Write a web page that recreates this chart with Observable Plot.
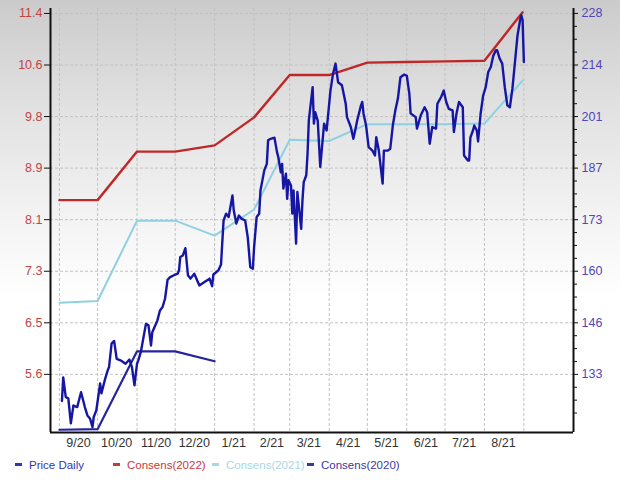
<!DOCTYPE html>
<html><head><meta charset="utf-8">
<script src="https://cdn.jsdelivr.net/npm/d3@7"></script>
<script src="https://cdn.jsdelivr.net/npm/@observablehq/plot@0.6"></script>
<style>
html,body{margin:0;padding:0;}
body{width:620px;height:482px;overflow:hidden;position:relative;
 background:linear-gradient(to bottom,#cbcbcb 0px,#e2e2e2 110px,#f5f5f5 230px,#ffffff 300px);
 font-family:"Liberation Sans",Arial,sans-serif;}
#chart svg{display:block;}
#legend{position:absolute;left:0;top:456px;width:620px;height:18px;font-size:11.5px;line-height:18px;}
.item{position:absolute;top:0;white-space:nowrap;}
.dash{display:inline-block;width:7px;height:3px;vertical-align:middle;margin-right:7px;position:relative;top:-1px;}
</style></head><body>
<div id="chart"></div><div id="legend"></div>
<script>
// ---- tick labels ----
const leftTickLabels  = ["5.6","6.5","7.3","8.1","8.9","9.8","10.6","11.4"];   // EPS axis
const rightTickLabels = ["133","146","160","173","187","201","214","228"];      // price axis
const xTickLabels = ["9/20","10/20","11/20","12/20","1/21","2/21","3/21","4/21","5/21","6/21","7/21","8/21"];
const xTickDates  = ["2020-09-16","2020-10-16","2020-11-16","2020-12-16","2021-01-16","2021-02-15","2021-03-16","2021-04-16","2021-05-16","2021-06-16","2021-07-16","2021-08-16"];
const monthStarts = ["2020-09-01","2020-10-01","2020-11-01","2020-12-01","2021-01-01","2021-02-01","2021-03-01","2021-04-01","2021-05-01","2021-06-01","2021-07-01","2021-08-01","2021-09-01"];
const xDomain = ["2020-08-25","2021-10-10"];
const yDomain = [117.7, 229.3]; // price units

// ---- consensus EPS series (monthly) ----
const consensDates = ["2020-09-01","2020-10-01","2020-11-01","2020-12-01","2021-01-01","2021-02-01","2021-03-01","2021-04-01","2021-05-01","2021-06-01","2021-07-01","2021-08-01","2021-08-31"];
const consens2022 = [8.40, 8.40, 9.18, 9.18, 9.28, 9.73, 10.41, 10.41, 10.61, 10.62, 10.63, 10.64, 11.42];
const consens2021 = [6.75, 6.78, 8.07, 8.07, 7.83, 8.25, 9.37, 9.35, 9.62, 9.62, 9.62, 9.63, 10.32];
const consens2020 = [4.71, 4.72, 5.97, 5.97, 5.81];

// ---- daily price ----
const priceDaily = [
["2020-09-03",126.0],["2020-09-04",132.2],["2020-09-06",127.0],["2020-09-08",126.7],["2020-09-10",120.1],
["2020-09-12",124.8],["2020-09-15",124.4],["2020-09-18",128.3],["2020-09-21",124.4],["2020-09-23",122.2],
["2020-09-25",121.4],["2020-09-27",119.1],["2020-09-28",121.8],["2020-09-30",123.5],["2020-10-03",130.6],
["2020-10-04",128.0],["2020-10-07",131.9],["2020-10-09",134.1],["2020-10-10",134.9],["2020-10-12",141.1],
["2020-10-14",141.8],["2020-10-16",137.1],["2020-10-19",136.7],["2020-10-23",135.8],["2020-10-26",136.9],
["2020-10-28",134.9],["2020-10-30",130.1],["2020-11-01",135.8],["2020-11-02",136.7],["2020-11-04",138.9],
["2020-11-08",146.3],["2020-11-10",145.9],["2020-11-12",140.6],["2020-11-13",144.1],["2020-11-17",147.2],
["2020-11-19",149.8],["2020-11-21",150.7],["2020-11-23",152.9],["2020-11-25",157.9],["2020-11-27",158.6],
["2020-11-30",159.1],["2020-12-03",159.5],["2020-12-04",160.4],["2020-12-05",163.9],["2020-12-07",164.3],
["2020-12-09",166.2],["2020-12-11",159.1],["2020-12-13",158.2],["2020-12-16",159.5],["2020-12-20",156.4],
["2020-12-24",157.3],["2020-12-28",158.2],["2020-12-30",156.2],["2020-12-31",159.3],["2021-01-04",160.4],
["2021-01-06",161.9],["2021-01-08",173.5],["2021-01-10",175.3],["2021-01-12",174.4],["2021-01-15",180.1],
["2021-01-16",176.2],["2021-01-18",172.7],["2021-01-20",174.8],["2021-01-22",174.0],["2021-01-25",173.5],
["2021-01-27",169.1],["2021-01-29",161.2],["2021-01-31",160.8],["2021-02-01",166.5],["2021-02-03",174.4],
["2021-02-05",175.3],["2021-02-06",181.4],["2021-02-09",186.7],["2021-02-11",188.4],["2021-02-12",194.6],
["2021-02-14",195.0],["2021-02-17",195.3],["2021-02-19",191.5],["2021-02-20",190.2],["2021-02-22",186.2],
["2021-02-23",188.4],["2021-02-24",181.9],["2021-02-26",185.8],["2021-02-27",179.2],["2021-02-28",184.1],
["2021-03-02",182.7],["2021-03-03",175.3],["2021-03-04",181.4],["2021-03-06",167.4],["2021-03-07",181.0],
["2021-03-10",171.3],["2021-03-11",178.8],["2021-03-12",183.6],["2021-03-14",185.4],["2021-03-15",191.1],
["2021-03-16",199.8],["2021-03-19",208.6],["2021-03-20",199.0],["2021-03-21",202.0],["2021-03-23",199.8],
["2021-03-25",187.6],["2021-03-28",199.0],["2021-03-30",197.2],["2021-04-02",207.7],["2021-04-04",212.1],
["2021-04-06",214.8],["2021-04-08",209.9],["2021-04-11",209.1],["2021-04-14",204.2],["2021-04-15",200.7],
["2021-04-18",198.1],["2021-04-20",195.0],["2021-04-22",198.1],["2021-04-23",199.8],["2021-04-26",203.8],
["2021-04-27",204.7],["2021-04-28",201.6],["2021-04-30",198.5],["2021-05-02",192.8],["2021-05-05",191.9],
["2021-05-07",190.6],["2021-05-08",195.4],["2021-05-10",191.9],["2021-05-13",183.2],["2021-05-14",191.9],
["2021-05-17",191.9],["2021-05-19",192.4],["2021-05-21",198.5],["2021-05-23",202.5],["2021-05-25",205.6],
["2021-05-27",211.2],["2021-05-30",211.9],["2021-06-01",211.6],["2021-06-03",206.9],["2021-06-04",201.7],
["2021-06-08",200.7],["2021-06-09",197.7],["2021-06-12",201.2],["2021-06-15",203.3],["2021-06-17",202.0],
["2021-06-19",193.7],["2021-06-21",198.1],["2021-06-24",197.7],["2021-06-25",204.2],["2021-06-28",206.0],
["2021-06-30",207.7],["2021-07-02",204.7],["2021-07-04",202.9],["2021-07-07",202.5],["2021-07-08",196.8],
["2021-07-10",201.6],["2021-07-12",204.7],["2021-07-15",203.3],["2021-07-16",190.6],["2021-07-19",189.3],
["2021-07-20",189.3],["2021-07-21",195.4],["2021-07-23",197.2],["2021-07-24",198.5],["2021-07-26",197.2],
["2021-07-27",194.3],["2021-07-29",201.6],["2021-07-31",206.4],["2021-08-02",208.6],["2021-08-04",212.6],
["2021-08-06",213.9],["2021-08-08",216.9],["2021-08-10",218.3],["2021-08-11",218.3],["2021-08-13",216.1],
["2021-08-15",214.8],["2021-08-17",208.6],["2021-08-19",203.8],["2021-08-21",203.3],["2021-08-23",208.2],
["2021-08-25",215.2],["2021-08-27",222.2],["2021-08-29",226.2],["2021-08-30",227.5],["2021-08-31",226.2],
["2021-09-01",215.2]
];

// ---- legend ----
const legendLabels = ["Price Daily","Consens(2022)","Consens(2021)","Consens(2020)"];
const legendColors = ["#3535b0","#c83a3a","#a9d7e6","#3a3a9e"];

// ---- build ----
const parse = d3.utcParse("%Y-%m-%d");
const epsLo = +leftTickLabels[0], epsHi = +leftTickLabels[leftTickLabels.length-1];
const pxLo = +rightTickLabels[0], pxHi = +rightTickLabels[rightTickLabels.length-1];
const nInt = leftTickLabels.length - 1;
const step = (pxHi - pxLo) / nInt;
const toPrice = e => pxLo + (e - epsLo) * (pxHi - pxLo) / (epsHi - epsLo);
const majorPos = leftTickLabels.map((_, i) => pxLo + i * step);
const minorPos = [];
for (let i = -1; i < nInt; i++) for (let k = 1; k <= 3; k++) minorPos.push(pxLo + (i + k/4) * step);

const price = priceDaily.map(([d, v]) => ({date: parse(d), value: v}));
const mk = arr => arr.map((v, i) => ({date: parse(consensDates[i]), value: toPrice(v)}));
const c22 = mk(consens2022), c21 = mk(consens2021), c20 = mk(consens2020);
const xTicks = xTickDates.map(parse);
const xLab = new Map(xTicks.map((d, i) => [+d, xTickLabels[i]]));
const lLab = new Map(majorPos.map((p, i) => [p, leftTickLabels[i]]));
const rLab = new Map(majorPos.map((p, i) => [p, rightTickLabels[i]]));
const xDom = xDomain.map(parse);

const chart = Plot.plot({
  width: 620, height: 452,
  marginTop: 8, marginBottom: 20, marginLeft: 50, marginRight: 47,
  style: {background: "transparent", fontFamily: "Liberation Sans, Arial, sans-serif", fontSize: "12.5px", overflow: "visible"},
  x: {type: "utc", domain: xDom, label: null},
  y: {domain: yDomain, label: null},
  marks: [
    Plot.gridX(monthStarts.map(parse), {stroke: "#c2c2c2", strokeOpacity: 1, strokeDasharray: "3,2"}),
    Plot.gridY(majorPos, {stroke: "#c2c2c2", strokeOpacity: 1, strokeDasharray: "3,2"}),
    Plot.line(c21, {x: "date", y: "value", stroke: "#8fd0e2", strokeWidth: 2}),
    Plot.line(c20, {x: "date", y: "value", stroke: "#25259c", strokeWidth: 2.2}),
    Plot.line(c22, {x: "date", y: "value", stroke: "#c02828", strokeWidth: 2.4}),
    Plot.line(price, {x: "date", y: "value", stroke: "#1616a4", strokeWidth: 2.4}),
    Plot.ruleX(xDom, {stroke: "#111", strokeWidth: 2}),
    Plot.ruleY([yDomain[0]], {stroke: "#111", strokeWidth: 2}),
    Plot.axisY(majorPos, {anchor: "left", label: null, tickSize: 6, tickPadding: 2, stroke: "#111", fill: "#c04444",
      tickFormat: d => lLab.get(d)}),
    Plot.axisY(majorPos, {anchor: "right", label: null, tickSize: 4, tickPadding: 4, stroke: "#111", fill: "#5246b6",
      tickFormat: d => rLab.get(d)}),
    Plot.axisY(minorPos, {anchor: "right", label: null, tickSize: 3, stroke: "#111", tickFormat: () => ""}),
    Plot.axisX(xTicks, {anchor: "bottom", label: null, tickSize: 0, tickPadding: 6, fill: "#333",
      tickFormat: d => xLab.get(+d)})
  ]
});
document.getElementById("chart").appendChild(chart);

const legendLefts = [15, 113, 212, 307];
const lg = document.getElementById("legend");
legendLabels.forEach((t, i) => {
  const s = document.createElement("span");
  s.className = "item";
  s.style.left = legendLefts[i] + "px";
  s.style.color = legendColors[i];
  s.innerHTML = `<span class="dash" style="background:${legendColors[i]}"></span>${t}`;
  lg.appendChild(s);
});
</script></body></html>
